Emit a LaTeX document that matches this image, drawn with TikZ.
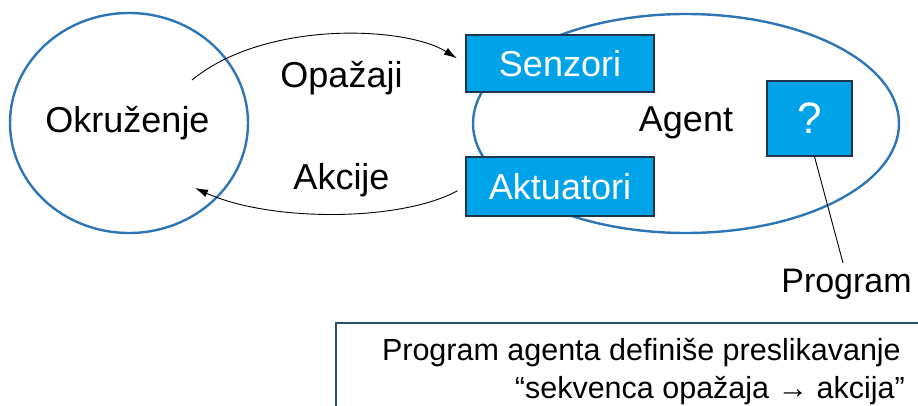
\documentclass[tikz,border=0pt]{standalone}
\usepackage{fontspec}
\setmainfont{Liberation Sans}
\usetikzlibrary{arrows.meta,shapes.geometric}
\definecolor{ringblue}{HTML}{2E75B6}
\definecolor{boxcyan}{HTML}{00A2E8}
\definecolor{boxedge}{HTML}{1F3550}
\definecolor{noteedge}{HTML}{27506E}
\begin{document}
\begin{tikzpicture}[x=1pt,y=-1pt,
  ring/.style={ellipse, draw=ringblue, line width=2.4pt, inner sep=0pt},
  unit/.style={rectangle, draw=boxedge, line width=1.2pt, fill=boxcyan,
    text=white, inner sep=0pt, font=\fontsize{36}{43}\selectfont},
  lbl/.style={inner sep=0pt, anchor=base, font=\fontsize{36}{43}\selectfont},
  flow/.style={draw=black, line width=0.9pt, -{Latex[length=13pt,width=8pt]}},
  notetext/.style={inner sep=0pt, anchor=base east, font=\fontsize{30.5}{36}\selectfont}]
\useasboundingbox (0,0) rectangle (918,406);

% environment and agent
\node[ring, minimum width=238pt, minimum height=220pt] (env) at (129,123) {};
\node[ring, minimum width=426pt, minimum height=219pt] (agent) at (686,123.5) {};

% sensors, actuators and the unknown program
\node[unit, minimum width=188pt, minimum height=57pt] (senz) at (560,63.5) {Senzori};
\node[unit, minimum width=188pt, minimum height=59pt] (akt) at (560,186.5) {Aktuatori};
\node[unit, minimum width=85pt, minimum height=75pt, font=\fontsize{44}{50}\selectfont] (q) at (809.5,118.5) {?};

% labels
\node[lbl] (lenv) at (127.5,133) {Okruženje};
\node[lbl] (lagent) at (686,132) {Agent};
\node[lbl] (lperc) at (341.5,88) {Opažaji};
\node[lbl] (lact) at (341.5,190) {Akcije};
\node[lbl, font=\fontsize{34}{40}\selectfont] (lprog) at (846.5,292) {Program};

% percepts and actions
\coordinate (pstart) at (192,80);
\coordinate (aend) at (195,188);
\draw[flow, shorten >=10pt] (pstart) .. controls (265,20) and (405,26) .. (senz.west);
\draw[flow, shorten <=9pt] (akt.west) .. controls (400,222) and (270,222) .. (aend);

% pointer to the program label
\coordinate (ptip) at (843,263);
\draw[black, line width=0.9pt] ([xshift=5pt]q.south) -- (ptip);

% note box
\draw[noteedge, line width=2.6pt] (336,420) -- (336,323) -- (930,323);
\node[notetext] (n1) at (901,360) {Program agenta definiše preslikavanje};
\node[notetext] (n2) at (905,398) {“sekvenca opažaja → akcija”};
\end{tikzpicture}
\end{document}
